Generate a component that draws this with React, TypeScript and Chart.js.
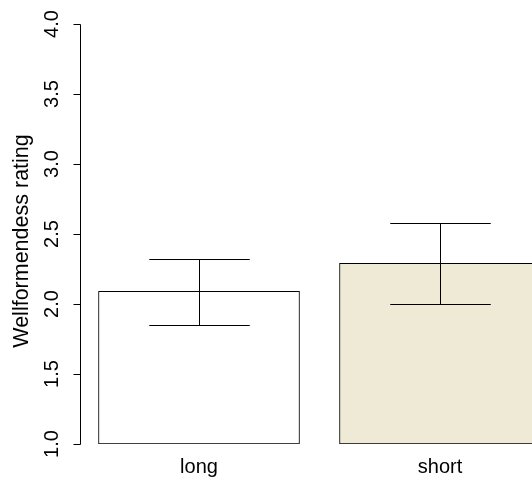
import React, { useEffect, useRef } from "react";
import { Chart, registerables } from "chart.js";

Chart.register(...registerables);

const categories = ["long", "short"];
const means = [2.09, 2.29];
const errLow = [1.85, 2.0];
const errHigh = [2.32, 2.58];
const fills = ["#FFFFFF", "#EFEAD6"];
const yTicks = [1.0, 1.5, 2.0, 2.5, 3.0, 3.5, 4.0];
const yTitle = "Wellformendess rating";

const FAMILY = "'Liberation Sans', Arial, Helvetica, sans-serif";
const FONT = "20px " + FAMILY;
const TITLE_FONT = "21.5px " + FAMILY;
const BAR_PX = 201;

const overlay = {
  id: "rOverlay",
  afterDatasetsDraw(chart: any) {
    const ctx = chart.ctx;
    const xs = chart.scales.x;
    const ys = chart.scales.y;
    ctx.save();
    ctx.strokeStyle = "#000";
    ctx.lineWidth = 1;
    categories.forEach((_, i) => {
      const cx = Math.round(xs.getPixelForValue(i + 1)) + 0.5;
      const yl = Math.round(ys.getPixelForValue(errLow[i])) + 0.5;
      const yh = Math.round(ys.getPixelForValue(errHigh[i])) + 0.5;
      const hw = BAR_PX / 4;
      ctx.beginPath();
      ctx.moveTo(cx, yl);
      ctx.lineTo(cx, yh);
      ctx.moveTo(cx - hw, yh);
      ctx.lineTo(cx + hw, yh);
      ctx.moveTo(cx - hw, yl);
      ctx.lineTo(cx + hw, yl);
      ctx.stroke();
    });
    ctx.restore();
  },
  afterDraw(chart: any) {
    const ctx = chart.ctx;
    const xs = chart.scales.x;
    const ys = chart.scales.y;
    ctx.save();
    ctx.strokeStyle = "#000";
    ctx.fillStyle = "#000";
    ctx.lineWidth = 1;
    const ax = 80.5;
    const y0 = Math.round(ys.getPixelForValue(yTicks[0])) + 0.5;
    const y1 = Math.round(ys.getPixelForValue(yTicks[yTicks.length - 1])) + 0.5;
    ctx.beginPath();
    ctx.moveTo(ax, y0);
    ctx.lineTo(ax, y1);
    yTicks.forEach((t) => {
      const py = Math.round(ys.getPixelForValue(t)) + 0.5;
      ctx.moveTo(ax, py);
      ctx.lineTo(ax - 7, py);
    });
    ctx.stroke();
    ctx.font = FONT;
    ctx.textAlign = "center";
    ctx.textBaseline = "middle";
    yTicks.forEach((t) => {
      const py = ys.getPixelForValue(t);
      ctx.save();
      ctx.translate(52, py);
      ctx.rotate(-Math.PI / 2);
      ctx.fillText(t.toFixed(1), 0, 0);
      ctx.restore();
    });
    ctx.save();
    ctx.font = TITLE_FONT;
    ctx.translate(22, 241);
    ctx.rotate(-Math.PI / 2);
    ctx.fillText(yTitle, 0, 0);
    ctx.restore();
    categories.forEach((c, i) => {
      ctx.fillText(c, xs.getPixelForValue(i + 1), 467);
    });
    ctx.restore();
  },
};

export default function App() {
  const ref = useRef<HTMLCanvasElement>(null);
  useEffect(() => {
    if (!ref.current) return;
    const chart = new Chart(ref.current, {
      type: "bar",
      data: {
        datasets: [
          {
            data: categories.map((_, i) => ({ x: i + 1, y: [yTicks[0], means[i]] })) as any,
            backgroundColor: fills,
            borderColor: "#000",
            borderWidth: 1,
            borderSkipped: false,
            barThickness: BAR_PX,
          },
        ],
      },
      options: {
        responsive: false,
        animation: false,
        events: [],
        layout: { padding: { left: 80, right: 0, top: 24, bottom: 36 } },
        plugins: { legend: { display: false }, tooltip: { enabled: false } },
        scales: {
          x: { type: "linear", min: 0.5062, max: 2.3817, offset: false, display: false },
          y: { type: "linear", min: 1, max: 4, display: false },
        },
      },
      plugins: [overlay],
    });
    return () => chart.destroy();
  }, []);
  return (
    <div style={{ position: "absolute", left: 0, top: 0, width: 532, height: 480, background: "#fff" }}>
      <canvas ref={ref} width={532} height={480} style={{ display: "block" }} />
    </div>
  );
}
